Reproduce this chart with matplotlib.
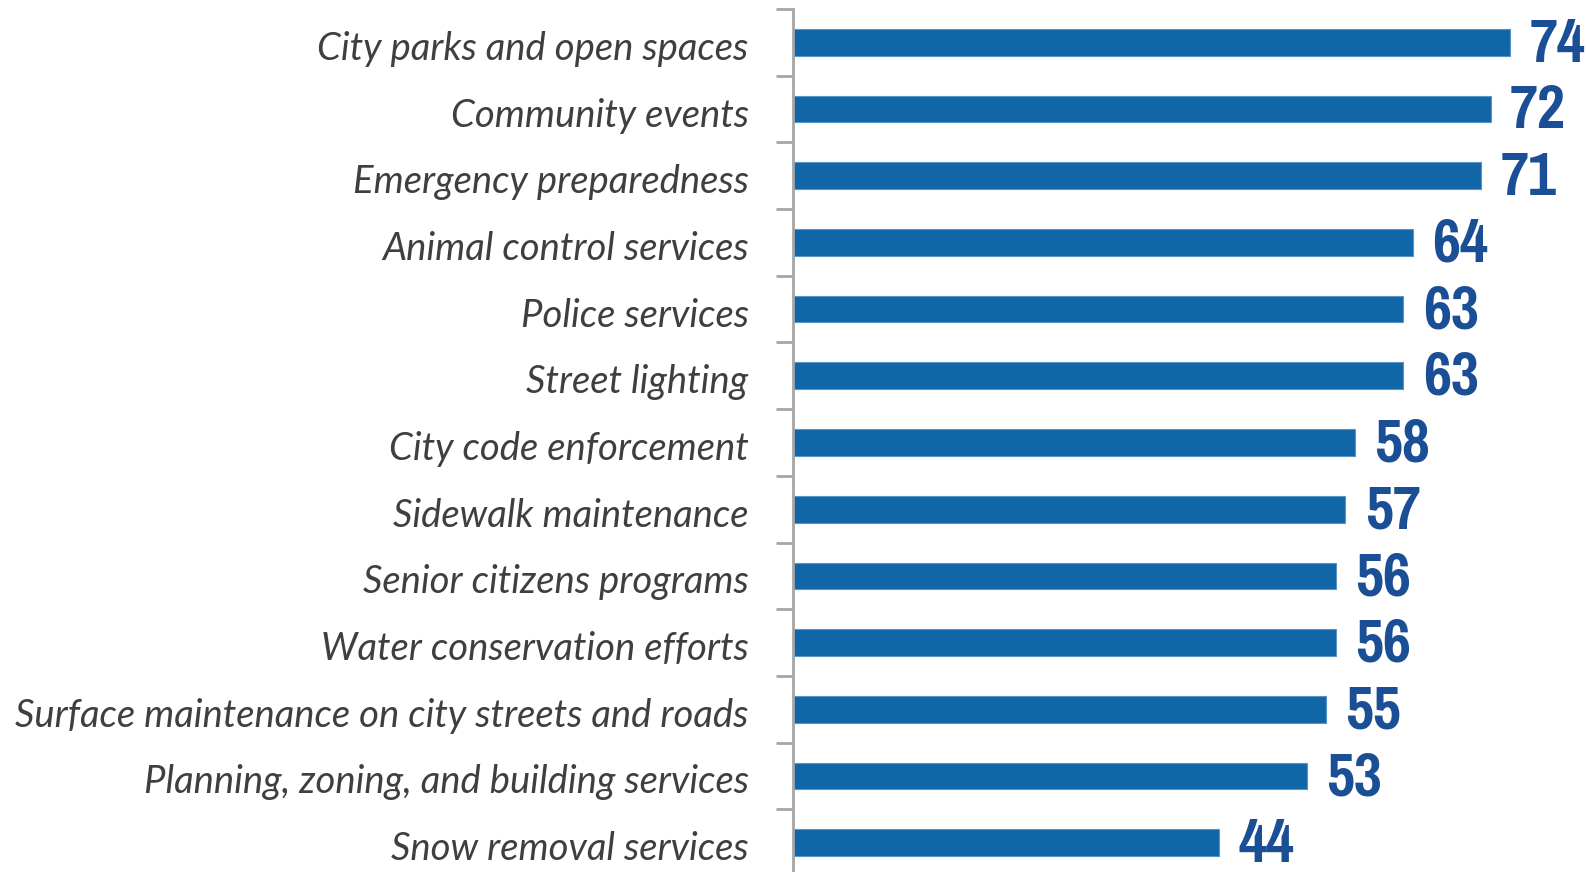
import matplotlib
matplotlib.use("Agg")
import matplotlib.pyplot as plt
from matplotlib import font_manager
import matplotlib.transforms as mtransforms
import numpy as np

categories = [
    "City parks and open spaces",
    "Community events",
    "Emergency preparedness",
    "Animal control services",
    "Police services",
    "Street lighting",
    "City code enforcement",
    "Sidewalk maintenance",
    "Senior citizens programs",
    "Water conservation efforts",
    "Surface maintenance on city streets and roads",
    "Planning, zoning, and building services",
    "Snow removal services",
]
values = [74, 72, 71, 64, 63, 63, 58, 57, 56, 56, 55, 53, 44]

bar_color = "#1166a8"
num_color = "#1a4f96"
label_color = "#3f3f3f"
axis_gray = "#a6a6a6"

# numbers use a narrow bold face if one is installed
files = [f.fname for f in font_manager.fontManager.ttflist]
num_file = None
for key in ["pragatinarrow-bold.", "sansnarrow-bold.", "narrow-bold.", "condensed-bold."]:
    hits = [p for p in files if key in p.lower()]
    if hits:
        num_file = sorted(hits)[0]
        break
if num_file:
    num_font = font_manager.FontProperties(fname=num_file, size=48)
else:
    num_font = font_manager.FontProperties(family="DejaVu Sans", weight="bold", size=38)

W, H = 1587, 872
fig = plt.figure(figsize=(W / 100, H / 100), dpi=100)

left_px, right_px = 793, 1587
top_px, bottom_px = 9, 876
ax = fig.add_axes([left_px / W, (H - bottom_px) / H,
                   (right_px - left_px) / W, (bottom_px - top_px) / H])

n = len(categories)
y = np.arange(n)
ax.barh(y, values, height=0.4, color=bar_color, edgecolor="#5b93c4", linewidth=0.8)

ax.set_xlim(0, (right_px - left_px) / 9.69)
ax.set_ylim(n - 0.5, -0.5)

for yi, v in zip(y, values):
    ax.text(v + 2.0, yi + 0.04, str(v), va="center", ha="left",
            fontproperties=num_font, color=num_color)

ax.set_yticks(y)
ax.set_yticklabels(categories, fontsize=27.5, style="italic", color=label_color,
                   family=["Lato", "DejaVu Sans"])
ax.tick_params(axis="y", which="major", length=0, pad=32)
ax.set_yticks(np.arange(n + 1) - 0.5, minor=True)
ax.tick_params(axis="y", which="minor", length=12, width=2, color=axis_gray)
shift = mtransforms.ScaledTranslation(0, -3 / 100, fig.dpi_scale_trans)
for lab in ax.get_yticklabels():
    lab.set_transform(lab.get_transform() + shift)

ax.set_xticks([])
for s in ["top", "right", "bottom"]:
    ax.spines[s].set_visible(False)
ax.spines["left"].set_color(axis_gray)
ax.spines["left"].set_linewidth(2)

fig.savefig("out.png", dpi=100)
